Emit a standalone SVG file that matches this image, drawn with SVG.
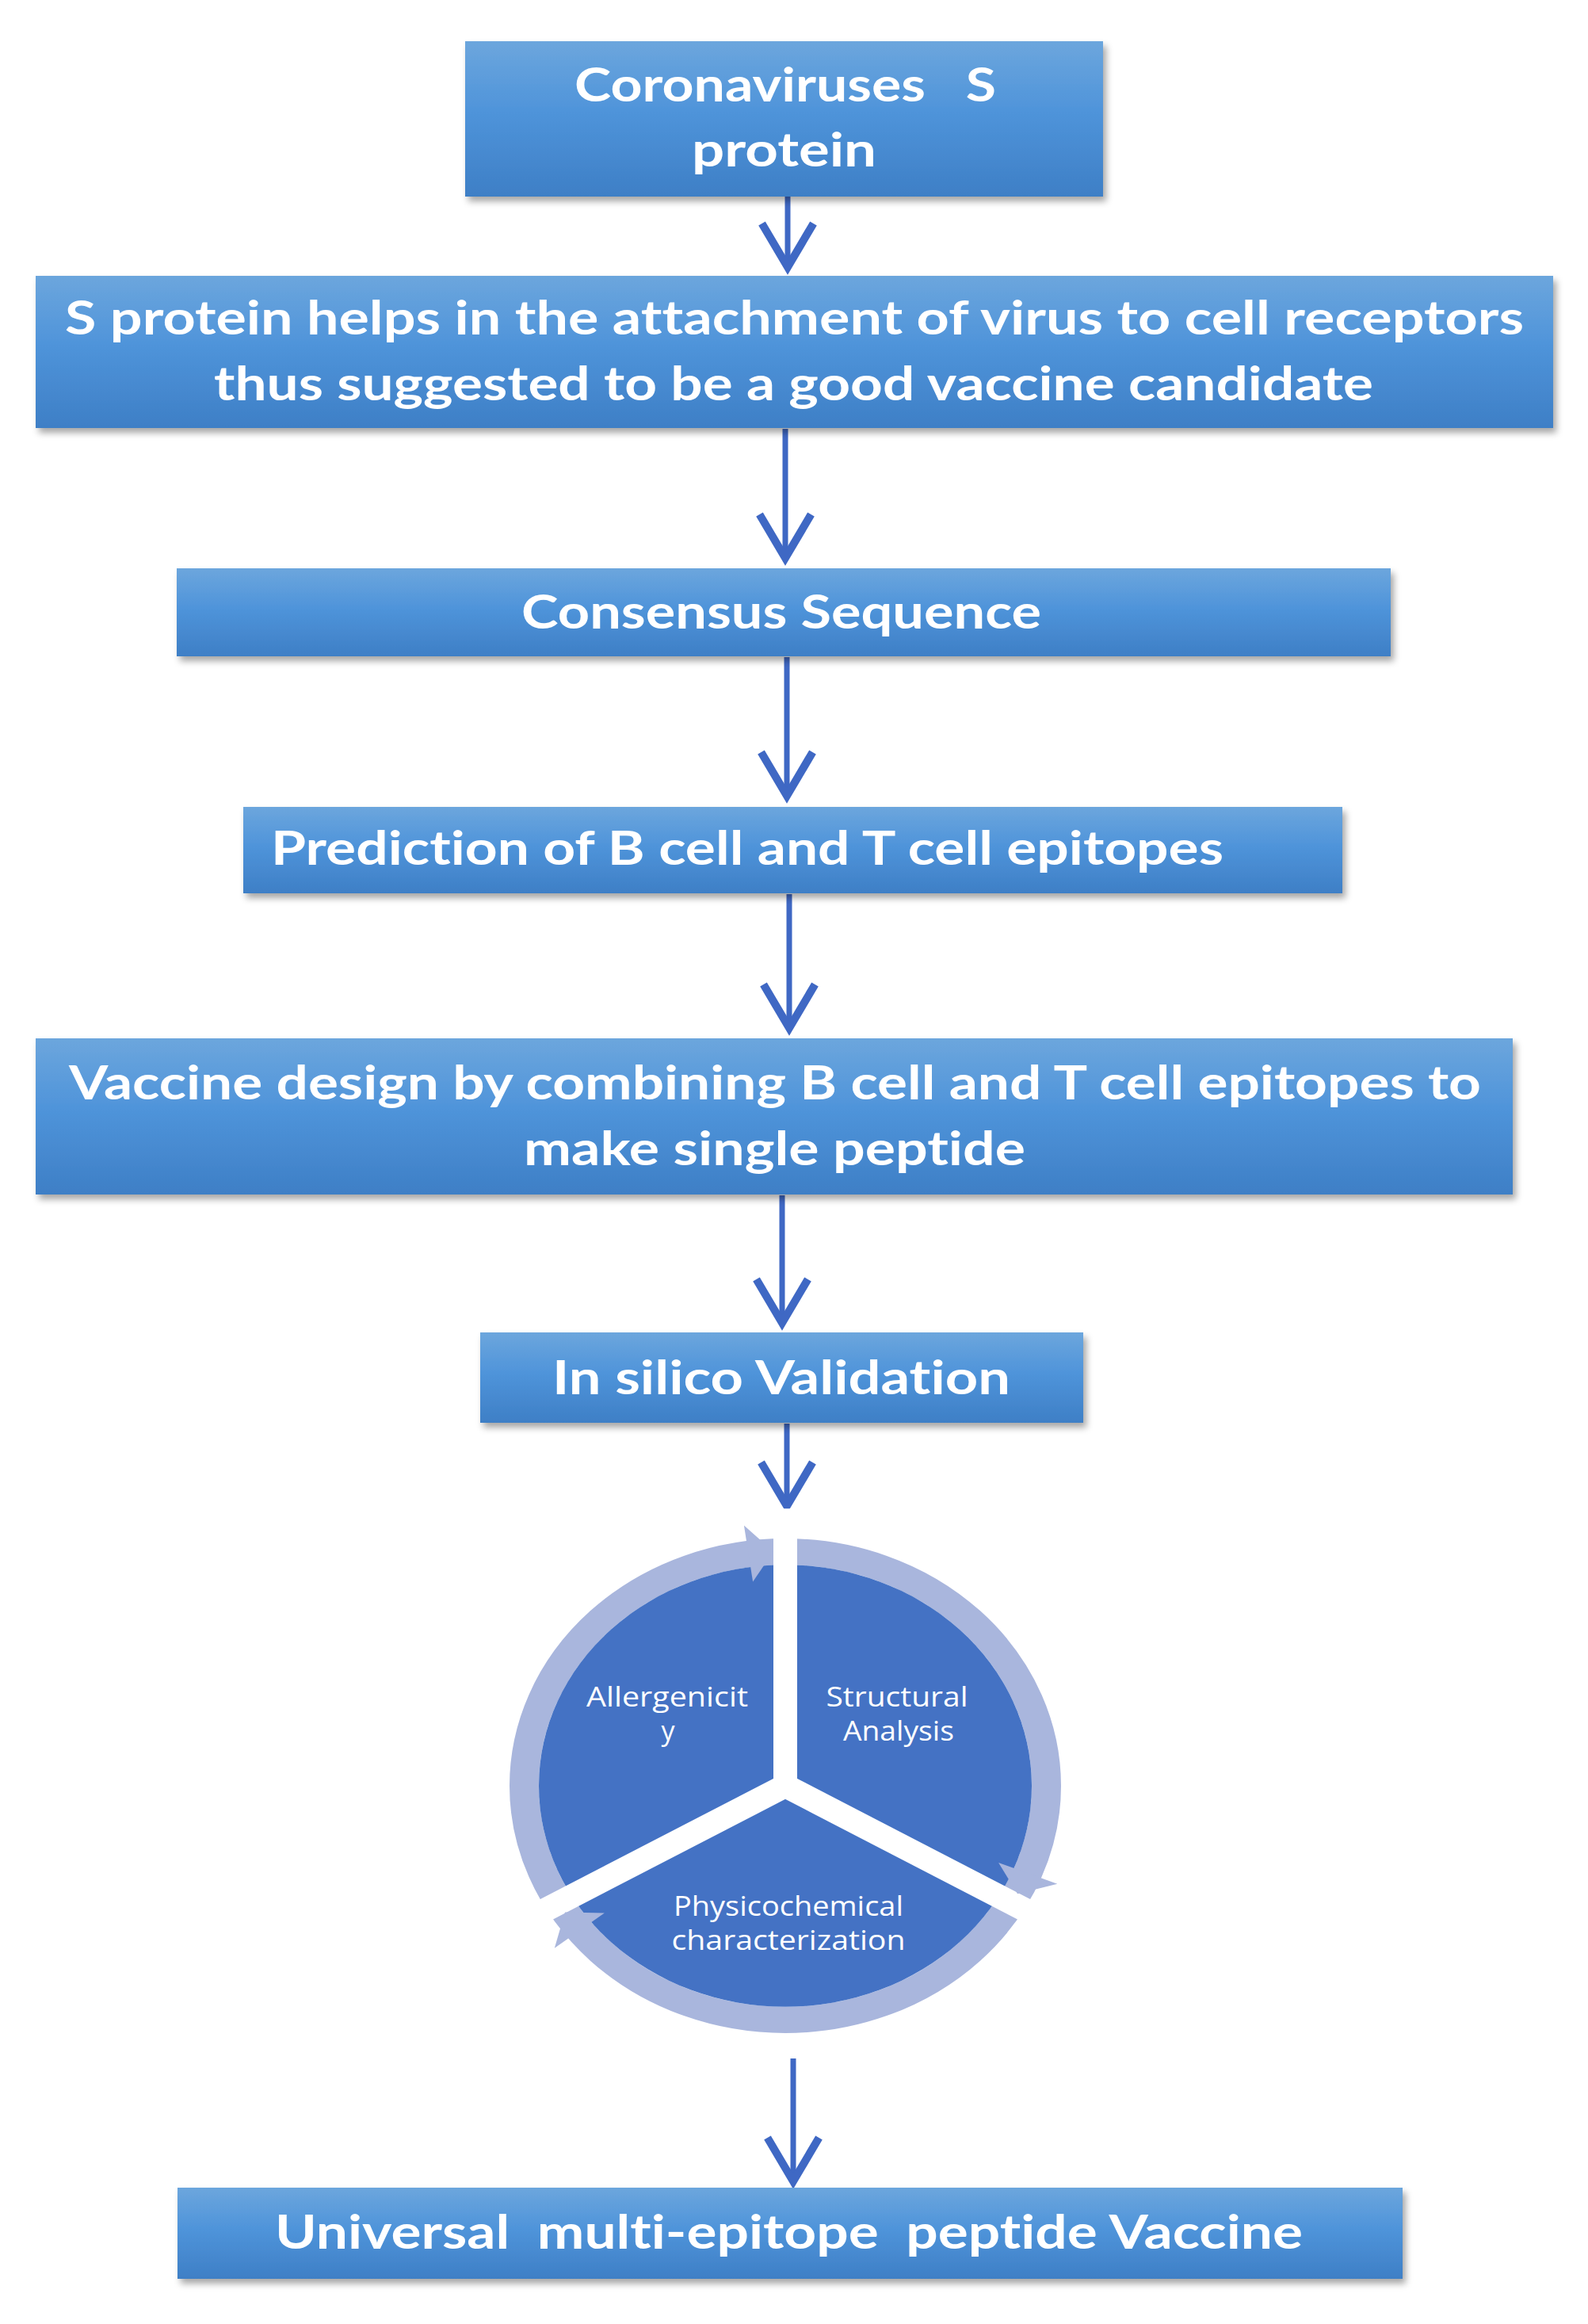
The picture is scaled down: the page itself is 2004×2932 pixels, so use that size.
<svg xmlns="http://www.w3.org/2000/svg" width="2004" height="2932" viewBox="0 0 2004 2932">
  <defs>
    <linearGradient id="boxg" x1="0" y1="0" x2="0" y2="1">
      <stop offset="0" stop-color="#6ca6dd"/>
      <stop offset="0.45" stop-color="#4f94da"/>
      <stop offset="1" stop-color="#3e7fc6"/>
    </linearGradient>
    <filter id="sh" x="-5%" y="-20%" width="110%" height="150%">
      <feDropShadow dx="4" dy="6" stdDeviation="4" flood-color="#000" flood-opacity="0.35"/>
    </filter>
    <marker id="ah" markerUnits="userSpaceOnUse" markerWidth="100" markerHeight="100" viewBox="-60 -40 80 80" refX="0" refY="0" orient="auto" overflow="visible">
      <path d="M-44,-26 L0,0 L-44,26" fill="none" stroke="#3f68c4" stroke-width="8" stroke-linejoin="miter"/>
    </marker>
    <style>
      .box { fill: url(#boxg); filter: url(#sh); }
      .bt { fill: #ffffff; font-family: Lato, "Open Sans", "Liberation Sans", sans-serif; font-weight: bold; font-size: 59px; white-space: pre; font-variant-ligatures: none; }
      .ct { fill: #ffffff; font-family: "Open Sans", "Noto Sans", "Liberation Sans", sans-serif; font-size: 34px; text-anchor: middle; }
      .conn { stroke: #3f68c4; stroke-width: 7; fill: none; marker-end: url(#ah); }
      .ring { fill: none; stroke: #a9b6dd; stroke-width: 37; }
      .pie { fill: #4472c4; }
      .gap { stroke: #ffffff; stroke-width: 30; vector-effect: non-scaling-stroke; }
      .ahd { fill: #a9b6dd; }
    </style>
  </defs>
  <rect width="2004" height="2932" fill="#ffffff"/>

  <g id="connectors">
    <line class="conn" x1="994" y1="248" x2="994" y2="337"/>
    <line class="conn" x1="991" y1="541" x2="991" y2="704"/>
    <line class="conn" x1="993" y1="829" x2="993" y2="1004"/>
    <line class="conn" x1="996" y1="1128" x2="996" y2="1297"/>
    <line class="conn" x1="987" y1="1508" x2="987" y2="1669"/>
    <line class="conn" x1="993" y1="1796" x2="993" y2="1900"/>
    <line class="conn" x1="1001" y1="2597" x2="1001" y2="2752"/>
  </g>

  <g id="n1">
    <rect class="box" x="587" y="52" width="805" height="196"/>
    <text class="bt" x="725" y="128" textLength="532" lengthAdjust="spacingAndGlyphs">Coronaviruses   S</text>
    <text class="bt" x="873" y="210" textLength="233" lengthAdjust="spacingAndGlyphs">protein</text>
  </g>

  <g id="n2">
    <rect class="box" x="45" y="348" width="1915" height="192"/>
    <text class="bt" x="82" y="422" textLength="1841" lengthAdjust="spacingAndGlyphs">S protein helps in the attachment of virus to cell receptors</text>
    <text class="bt" x="270" y="505" textLength="1463" lengthAdjust="spacingAndGlyphs">thus suggested to be a good vaccine candidate</text>
  </g>

  <g id="n3">
    <rect class="box" x="223" y="717" width="1532" height="111"/>
    <text class="bt" x="658" y="793" textLength="656" lengthAdjust="spacingAndGlyphs">Consensus Sequence</text>
  </g>

  <g id="n4">
    <rect class="box" x="307" y="1018" width="1387" height="109"/>
    <text class="bt" x="342" y="1091" textLength="1202" lengthAdjust="spacingAndGlyphs">Prediction of B cell and T cell epitopes</text>
  </g>

  <g id="n5">
    <rect class="box" x="45" y="1310" width="1864" height="197"/>
    <text class="bt" x="87" y="1387" textLength="1782" lengthAdjust="spacingAndGlyphs">Vaccine design by combining B cell and T cell epitopes to</text>
    <text class="bt" x="661" y="1470" textLength="633" lengthAdjust="spacingAndGlyphs">make single peptide</text>
  </g>

  <g id="n6">
    <rect class="box" x="606" y="1681" width="761" height="114"/>
    <text class="bt" x="697" y="1759" textLength="578" lengthAdjust="spacingAndGlyphs">In silico Validation</text>
  </g>

  <g id="n7">
    <g transform="translate(991,2253) scale(1,0.8966)">
      <circle class="ring" cx="0" cy="0" r="329.5"/>
      <circle class="pie" cx="0" cy="0" r="311"/>
      <line class="gap" x1="0" y1="0" x2="0" y2="-390"/>
      <line class="gap" x1="0" y1="0" x2="338" y2="195"/>
      <line class="gap" x1="0" y1="0" x2="-338" y2="195"/>
      <polygon class="ahd" points="-15.0,-329.7 -40.9,-287.1 -52.1,-366.3"/>
      <polygon class="ahd" points="293.0,151.9 269.1,108.2 343.3,138.0"/>
      <polygon class="ahd" points="-278.0,177.8 -228.2,178.9 -291.2,228.3"/>
    </g>
    <text class="ct" x="842" y="2153" textLength="204" lengthAdjust="spacingAndGlyphs">Allergenicit</text>
    <text class="ct" x="843" y="2196">y</text>
    <text class="ct" x="1132" y="2153" textLength="179" lengthAdjust="spacingAndGlyphs">Structural</text>
    <text class="ct" x="1134" y="2196" textLength="140" lengthAdjust="spacingAndGlyphs">Analysis</text>
    <text class="ct" x="995" y="2417" textLength="290" lengthAdjust="spacingAndGlyphs">Physicochemical</text>
    <text class="ct" x="995" y="2460" textLength="295" lengthAdjust="spacingAndGlyphs">characterization</text>
  </g>

  <g id="n8">
    <rect class="box" x="224" y="2760" width="1546" height="115"/>
    <text class="bt" x="347" y="2837" textLength="1297" lengthAdjust="spacingAndGlyphs">Universal  multi-epitope  peptide Vaccine</text>
  </g>
</svg>
